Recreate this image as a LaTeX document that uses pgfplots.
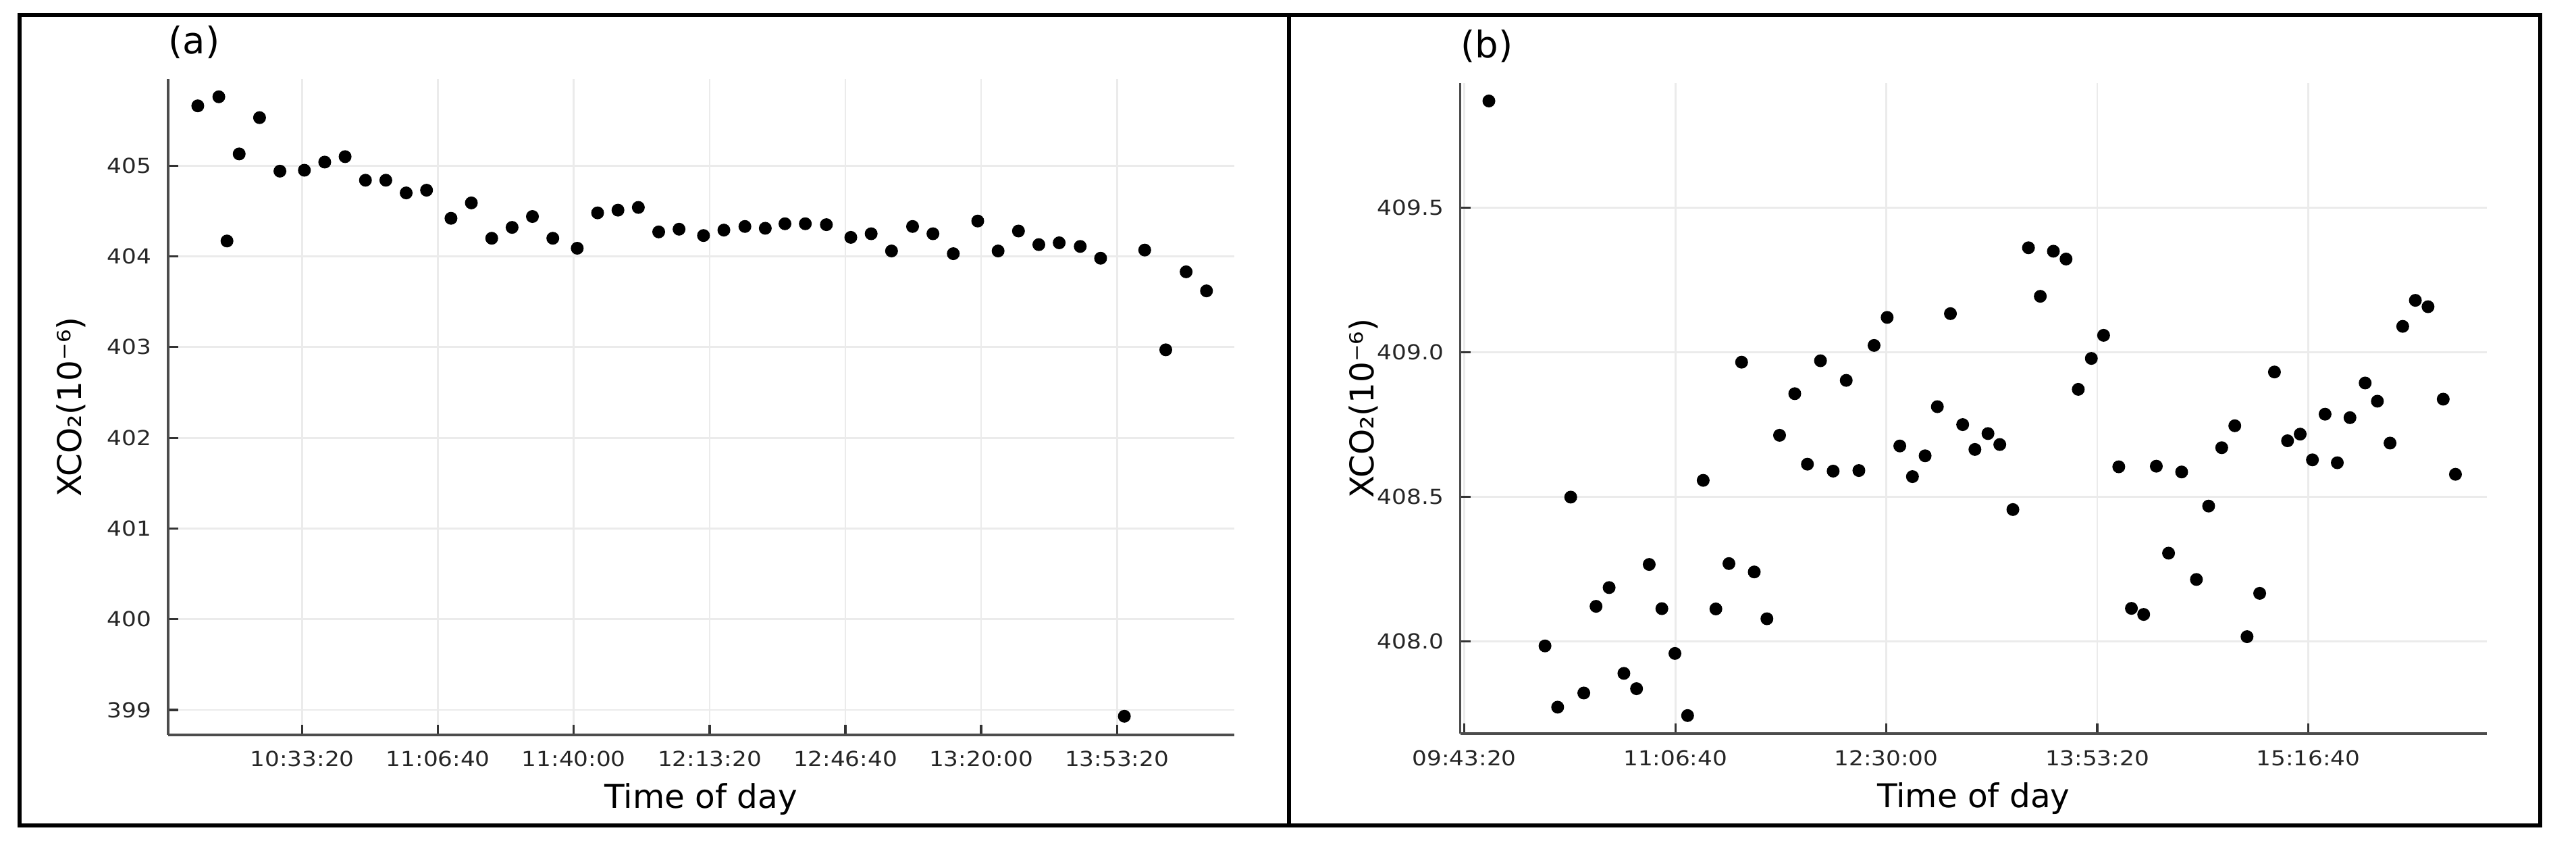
\documentclass[border=0pt]{standalone}
\usepackage{fontspec}
\setmainfont{DejaVu Sans}
\newfontfamily\tickfont[FakeStretch=1.12]{DejaVu Sans}
\usepackage{pgfplots}
\pgfplotsset{compat=1.18}
\usepackage{pgfplotstable}

% time of day in ks since midnight (38 = 10:33:20), XCO2 in ppm
\pgfplotstableread{
t xco2
36.46 405.66
36.77 405.76
36.89 404.17
37.07 405.13
37.37 405.53
37.67 404.94
38.03 404.95
38.33 405.04
38.63 405.10
38.93 404.84
39.23 404.84
39.53 404.70
39.83 404.73
40.19 404.42
40.49 404.59
40.79 404.20
41.09 404.32
41.39 404.44
41.69 404.20
42.05 404.09
42.35 404.48
42.65 404.51
42.95 404.54
43.25 404.27
43.55 404.30
43.91 404.23
44.21 404.29
44.52 404.33
44.82 404.31
45.11 404.36
45.41 404.36
45.72 404.35
46.08 404.21
46.38 404.25
46.68 404.06
46.99 404.33
47.29 404.25
47.59 404.03
47.95 404.39
48.25 404.06
48.55 404.28
48.85 404.13
49.15 404.15
49.46 404.11
49.76 403.98
50.11 398.93
50.41 404.07
50.72 402.97
51.02 403.83
51.32 403.62
}\dataA

\pgfplotstableread{
t xco2
35.58 409.870
36.91 407.984
37.21 407.772
37.52 408.499
37.83 407.821
38.12 408.121
38.43 408.186
38.78 407.889
39.08 407.836
39.38 408.266
39.68 408.113
39.99 407.958
40.29 407.743
40.66 408.557
40.96 408.112
41.27 408.269
41.57 408.966
41.87 408.240
42.17 408.078
42.47 408.713
42.83 408.857
43.13 408.613
43.44 408.971
43.74 408.589
44.05 408.903
44.35 408.591
44.71 409.024
45.02 409.121
45.32 408.676
45.62 408.570
45.92 408.642
46.21 408.812
46.52 409.134
46.81 408.750
47.10 408.664
47.41 408.719
47.69 408.681
48.00 408.456
48.37 409.362
48.65 409.194
48.96 409.350
49.26 409.323
49.55 408.872
49.86 408.979
50.15 409.059
50.51 408.604
50.81 408.114
51.10 408.093
51.40 408.606
51.69 408.305
52.00 408.586
52.35 408.214
52.64 408.468
52.95 408.670
53.26 408.746
53.55 408.016
53.85 408.166
54.20 408.932
54.51 408.694
54.81 408.717
55.10 408.628
55.40 408.786
55.69 408.618
55.99 408.774
56.35 408.894
56.64 408.831
56.94 408.686
57.24 409.090
57.54 409.180
57.84 409.158
58.20 408.838
58.49 408.578
}\dataB

\pgfplotsset{
  gr/.style={
    scale only axis, anchor=south west,
    axis x line*=bottom, axis y line*=left,
    tick align=inside,
    major tick length=1.5mm,
    tick style={black!80, line width=0.9pt},
    axis line style={black!70, line width=1.1pt},
    grid=major,
    major grid style={black!8, line width=0.8pt},
    tick label style={font=\tickfont\fontsize{8.7}{10}\selectfont, text=black!85},
    xticklabel style={anchor=base, inner sep=0pt, yshift=-4.7mm},
    yticklabel style={anchor=east, inner sep=0pt, xshift=-2.4mm},
    label style={font=\fontsize{13.8}{16}\selectfont},
    xlabel style={at={([yshift=-10.9mm]axis description cs:0.5,0)}, anchor=base, inner sep=0pt},
    ylabel style={at={([xshift=-12.77mm]axis description cs:0,0.5)}, anchor=base, inner sep=0pt},
    % the default title style already shifts up by 6pt
    title style={at={([yshift=3.7mm-6pt]axis description cs:0,1)}, anchor=base west, inner sep=0pt,
                 font=\fontsize{15.5}{18}\selectfont},
    xlabel={Time of day},
    ylabel={XCO₂(10⁻⁶)},
  },
  dots/.style={only marks, mark=*, mark size=2.5pt, black, mark options={fill=black}},
}

\begin{document}
\begin{tikzpicture}
\useasboundingbox (0,0) rectangle (381.5mm,124.8mm);

\begin{axis}[gr,
  at={(24.87mm,16.0mm)}, width=157.93mm, height=97.1mm,
  xmin=36.02, xmax=51.73, ymin=398.724, ymax=405.956,
  xtick={38,40,42,44,46,48,50},
  xticklabels={10:33:20,11:06:40,11:40:00,12:13:20,12:46:40,13:20:00,13:53:20},
  ytick={399,400,401,402,403,404,405},
  yticklabels={399,400,401,402,403,404,405},
  title={(a)},
]
  \addplot[dots] table[x=t, y=xco2] {\dataA};
\end{axis}

\begin{axis}[gr,
  at={(216.25mm,16.17mm)}, width=152.08mm, height=96.33mm,
  xmin=34.90, xmax=59.24, ymin=407.68, ymax=409.932,
  xtick={35,40,45,50,55},
  xticklabels={09:43:20,11:06:40,12:30:00,13:53:20,15:16:40},
  ytick={408,408.5,409,409.5},
  yticklabels={408.0,408.5,409.0,409.5},
  title={(b)},
]
  \addplot[dots] table[x=t, y=xco2] {\dataB};
\end{axis}

% panel frames
\draw[line width=0.6mm] (2.9mm,2.6mm) rectangle (376.2mm,122.6mm);
\draw[line width=0.6mm] (190.9mm,2.6mm) -- (190.9mm,122.6mm);
\end{tikzpicture}
\end{document}
